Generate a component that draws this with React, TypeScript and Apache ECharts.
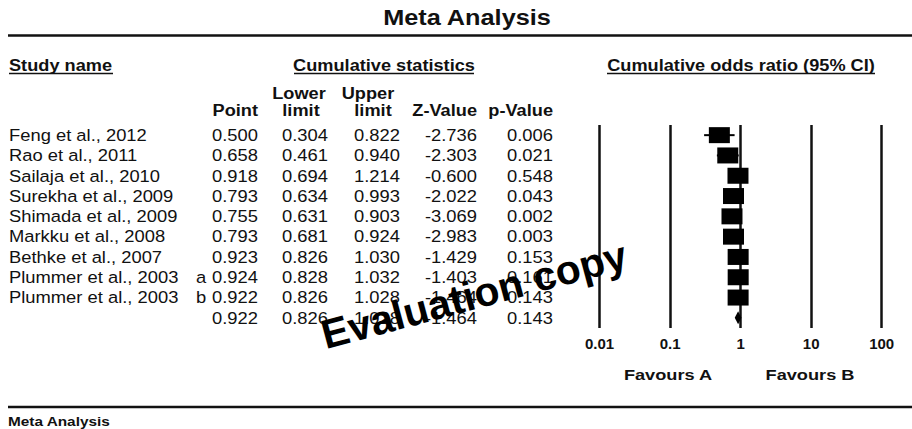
import React, { useEffect, useRef } from "react";
import * as echarts from "echarts";

// ---- data ----
const studies = [
  "Feng et al., 2012",
  "Rao et al., 2011",
  "Sailaja et al., 2010",
  "Surekha et al., 2009",
  "Shimada et al., 2009",
  "Markku et al., 2008",
  "Bethke et al., 2007",
  "Plummer et al., 2003",
  "Plummer et al., 2003",
  "",
];
const subgroups = ["", "", "", "", "", "", "", "a", "b", ""];
const points = [0.5, 0.658, 0.918, 0.793, 0.755, 0.793, 0.923, 0.924, 0.922, 0.922];
const lowers = [0.304, 0.461, 0.694, 0.634, 0.631, 0.681, 0.826, 0.828, 0.826, 0.826];
const uppers = [0.822, 0.94, 1.214, 0.993, 0.903, 0.924, 1.03, 1.032, 1.028, 1.028];
const zValues = [-2.736, -2.303, -0.6, -2.022, -3.069, -2.983, -1.429, -1.403, -1.464, -1.464];
const pValues = [0.006, 0.021, 0.548, 0.043, 0.002, 0.003, 0.153, 0.161, 0.143, 0.143];
const tickValues = [0.01, 0.1, 1, 10, 100];
const tickLabels = ["0.01", "0.1", "1", "10", "100"];
const summaryRow = 9;

const FONT = '"Liberation Sans", Arial, sans-serif';
const INK = "#111";

export default function App() {
  const ref = useRef<HTMLDivElement>(null);

  useEffect(() => {
    if (!ref.current) return;
    const chart = echarts.init(ref.current, null, { renderer: "svg", width: 912, height: 429 });
    const rowIds = studies.map((_, i) => String(i));
    const SX = 1.08;

    const tableText = (text: string, x: number, y: number, align: string) => ({
      type: "text",
      x,
      y,
      scaleX: SX,
      style: {
        text,
        textAlign: align,
        textVerticalAlign: "middle",
        font: `17px ${FONT}`,
        fill: INK,
      },
    });

    const hdr = (text: string, x: number, y: number, align: string, size = 17, sx = 1.07) => ({
      type: "text",
      x,
      y,
      scaleX: sx,
      z: 10,
      style: {
        text,
        textAlign: align,
        textVerticalAlign: "middle",
        font: `bold ${size}px ${FONT}`,
        fill: INK,
      },
    });

    const hline = (x1: number, x2: number, y: number, w: number) => ({
      type: "line",
      z: 10,
      shape: { x1, y1: y, x2, y2: y },
      style: { stroke: INK, lineWidth: w },
    });

    const option: any = {
      animation: false,
      backgroundColor: "#fff",
      grid: { left: 599.5, right: 30.3, top: 125, height: 203, containLabel: false },
      xAxis: {
        type: "log",
        logBase: 10,
        min: 0.01,
        max: 100,
        axisLine: { show: false },
        axisTick: { show: false },
        splitLine: { show: false },
        axisLabel: {
          margin: 8,
          color: INK,
          fontFamily: FONT,
          fontWeight: "bold",
          fontSize: 15,
          formatter: (v: number) => {
            const k = tickValues.findIndex((t) => Math.abs(Math.log10(t) - Math.log10(v)) < 1e-6);
            return k >= 0 ? tickLabels[k] : "";
          },
        },
      },
      yAxis: {
        type: "category",
        data: rowIds,
        inverse: true,
        show: false,
      },
      series: [
        {
          type: "scatter",
          data: [],
          z: 1,
          markLine: {
            silent: true,
            symbol: "none",
            animation: false,
            label: { show: false },
            lineStyle: { color: INK, width: 2.5, type: "solid" },
            data: tickValues.map((v) => ({ xAxis: v })),
          },
        },
        {
          type: "custom",
          z: 5,
          data: points.slice(0, summaryRow).map((p, i) => [p, i, lowers[i], uppers[i]]),
          encode: { x: 0, y: 1 },
          renderItem: (params: any, api: any) => {
            const i = api.value(1);
            const c = api.coord([api.value(0), i]);
            const lo = api.coord([api.value(2), i]);
            const hi = api.coord([api.value(3), i]);
            return {
              type: "group",
              children: [
                {
                  type: "line",
                  shape: { x1: lo[0], y1: c[1], x2: hi[0], y2: c[1] },
                  style: { stroke: "#000", lineWidth: 2 },
                },
                {
                  type: "rect",
                  shape: { x: c[0] - 10.5, y: c[1] - 8, width: 21, height: 16 },
                  style: { fill: "#000" },
                },
              ],
            };
          },
        },
        {
          type: "custom",
          z: 5,
          data: [[points[summaryRow], summaryRow, lowers[summaryRow], uppers[summaryRow]]],
          encode: { x: 0, y: 1 },
          renderItem: (params: any, api: any) => {
            const i = api.value(1);
            const c = api.coord([api.value(0), i]);
            const lo = api.coord([api.value(2), i]);
            const hi = api.coord([api.value(3), i]);
            return {
              type: "polygon",
              shape: {
                points: [
                  [lo[0], c[1]],
                  [c[0], c[1] - 6.5],
                  [hi[0], c[1]],
                  [c[0], c[1] + 6.5],
                ],
              },
              style: { fill: "#000" },
            };
          },
        },
        {
          type: "custom",
          z: 4,
          data: studies.map((_, i) => [1, i]),
          encode: { x: 0, y: 1 },
          renderItem: (params: any, api: any) => {
            const i = params.dataIndex;
            const y = api.coord([1, i])[1];
            return {
              type: "group",
              children: [
                tableText(studies[i], 9, y, "left"),
                tableText(subgroups[i], 196, y, "left"),
                tableText(points[i].toFixed(3), 258, y, "right"),
                tableText(lowers[i].toFixed(3), 328, y, "right"),
                tableText(uppers[i].toFixed(3), 400, y, "right"),
                tableText(zValues[i].toFixed(3), 477, y, "right"),
                tableText(pValues[i].toFixed(3), 553, y, "right"),
              ],
            };
          },
        },
      ],
      graphic: [
        {
          type: "text",
          x: 467,
          y: 18,
          scaleX: 1.15,
          style: {
            text: "Meta Analysis",
            textAlign: "center",
            textVerticalAlign: "middle",
            font: `bold 22px ${FONT}`,
            fill: INK,
          },
        },
        hline(8, 912, 35.5, 2.5),
        hdr("Study name", 9, 65, "left"),
        hline(9, 113, 73.5, 1.3),
        hdr("Cumulative statistics", 384, 65, "center"),
        hline(294, 474, 73.5, 1.3),
        hdr("Cumulative odds ratio (95% CI)", 741, 65, "center"),
        hline(607, 875, 73.5, 1.3),
        hdr("Lower", 299, 93, "center"),
        hdr("Upper", 368, 93, "center"),
        hdr("Point", 258, 110, "right"),
        hdr("limit", 301, 110, "center"),
        hdr("limit", 373, 110, "center"),
        hdr("Z-Value", 477, 110, "right"),
        hdr("p-Value", 553, 110, "right"),
        hdr("Favours A", 668, 375, "center", 14, 1.3),
        hdr("Favours B", 810, 375, "center", 14, 1.3),
        hline(8, 912, 407, 2.5),
        hdr("Meta Analysis", 8, 422, "left", 12, 1.28),
        {
          type: "text",
          x: 474,
          y: 295,
          rotation: (15 * Math.PI) / 180,
          z: 50,
          style: {
            text: "Evaluation copy",
            textAlign: "center",
            textVerticalAlign: "middle",
            font: `bold 41px ${FONT}`,
            fill: "#000",
          },
        },
      ],
    };

    chart.setOption(option);
    return () => chart.dispose();
  }, []);

  return (
    <div
      ref={ref}
      style={{ position: "fixed", left: 0, top: 0, width: 912, height: 429, background: "#fff" }}
    />
  );
}
